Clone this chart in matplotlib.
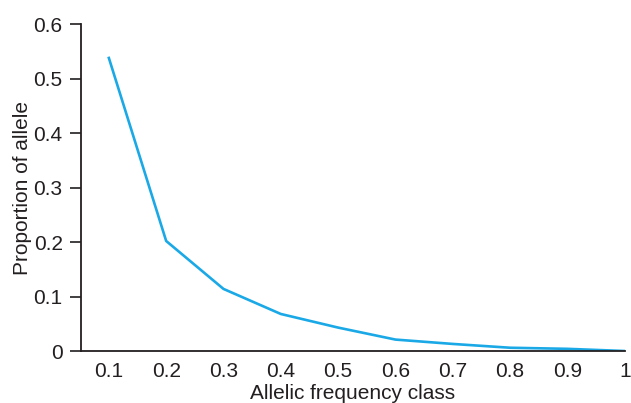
import matplotlib
matplotlib.use('Agg')
import matplotlib.pyplot as plt

plt.rcParams['font.family'] = ['Liberation Sans', 'DejaVu Sans']

freq_class = [0.1, 0.2, 0.3, 0.4, 0.5, 0.6, 0.7, 0.8, 0.9, 1.0]
tick_labels = ['0.1', '0.2', '0.3', '0.4', '0.5', '0.6', '0.7', '0.8', '0.9', '1']
proportion = [0.538, 0.202, 0.114, 0.068, 0.043, 0.021, 0.013, 0.006, 0.004, 0.0]

fig = plt.figure(figsize=(6.31, 4.03), dpi=100)
ax = fig.add_axes([0.128, 0.129, 0.862, 0.811])

ax.plot(freq_class, proportion, color='#1aa9e6', linewidth=1.9)

ax.set_xlim(0.051, 1.0)
ax.set_ylim(0, 0.6)
ax.set_xticks(freq_class)
ax.set_xticklabels(tick_labels)
ax.set_yticks([0, 0.1, 0.2, 0.3, 0.4, 0.5, 0.6])
ax.set_yticklabels(['0', '0.1', '0.2', '0.3', '0.4', '0.5', '0.6'])
ax.tick_params(axis='x', length=0, labelsize=15, pad=8, colors='#231f20')
ax.tick_params(axis='y', length=8, width=1.2, labelsize=15, pad=5, colors='#231f20')

for s in ['top', 'right']:
    ax.spines[s].set_visible(False)
for s in ['left', 'bottom']:
    ax.spines[s].set_linewidth(1.3)
    ax.spines[s].set_color('#231f20')

ax.set_xlabel('Allelic frequency class', fontsize=15, labelpad=2, color='#231f20')
ax.set_ylabel('Proportion of allele', fontsize=15, color='#231f20')
ax.yaxis.set_label_coords(-0.09, 0.5)

fig.savefig('out.png', dpi=100)
